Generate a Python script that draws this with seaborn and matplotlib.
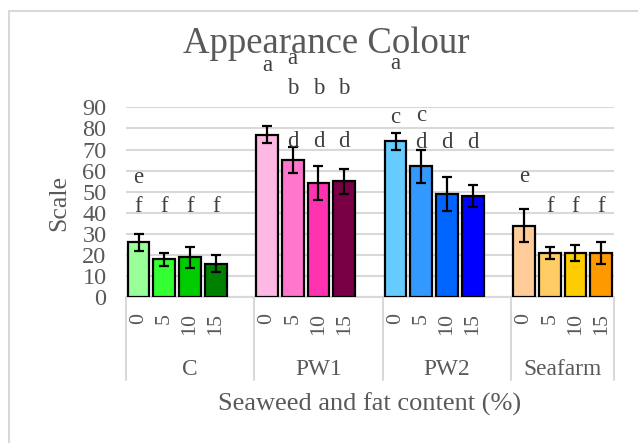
import matplotlib
matplotlib.use("Agg")
import matplotlib.pyplot as plt
import matplotlib.transforms as mtransforms
from matplotlib.patches import Rectangle
import seaborn as sns
import pandas as pd

# ---- data ----
groups = ["C", "PW1", "PW2", "Seafarm"]
fat_levels = ["0", "5", "10", "15"]
means = {
    "C": [26, 18, 19, 16],
    "PW1": [77, 65, 54, 55],
    "PW2": [74, 62, 49, 48],
    "Seafarm": [34, 21, 21, 21],
}
errors = {
    "C": [4, 3, 5, 4],
    "PW1": [4, 6, 8, 6],
    "PW2": [4, 8, 8, 5],
    "Seafarm": [8, 3, 4, 5],
}
colours = {
    "C": ["#99FF99", "#33FF33", "#00CC00", "#008000"],
    "PW1": ["#FFB7E3", "#FF77CC", "#FF33B0", "#7A0046"],
    "PW2": ["#66CCFF", "#3399FF", "#0066FF", "#0000FF"],
    "Seafarm": ["#FFCC99", "#FFCC66", "#FFCC00", "#FF9900"],
}
# significance letters per bar
letters = {
    "C": [["e", "f"], ["f"], ["f"], ["f"]],
    "PW1": [["a"], ["a", "b", "d"], ["b", "d"], ["b", "d"]],
    "PW2": [["a", "c"], ["c", "d"], ["d"], ["d"]],
    "Seafarm": [["e"], ["f"], ["f"], ["f"]],
}
# baseline height (in scale units) of each letter row
letter_height = {
    ("C", "e"): 54, ("C", "f"): 40.5,
    ("PW1", "a"): 107, ("PW1", "b"): 96.5, ("PW1", "d"): 71,
    ("PW2", "a"): 108.3, ("PW2", "c"): 82.5, ("PW2", "d"): 70.6,
    ("Seafarm", "e"): 54.5, ("Seafarm", "f"): 40.5,
}
letter_raise = {("PW1", 1, "a"): 3.6, ("PW2", 1, "c"): 1.0}

# ---- build table with empty slots between groups ----
rows = []
order = []
bar_keys = []
palette = {}
for gi, g in enumerate(groups):
    for li, lvl in enumerate(fat_levels):
        key = f"{g}|{lvl}"
        rows.append({"key": key, "group": g, "fat": lvl, "value": means[g][li],
                     "err": errors[g][li]})
        order.append(key)
        bar_keys.append(key)
        palette[key] = colours[g][li]
    if gi < len(groups) - 1:
        order.append(f"gap{gi}")
df = pd.DataFrame(rows)

sns.set_theme(style="white")
plt.rcParams["font.family"] = ["Liberation Serif", "DejaVu Serif"]
grey = "#595959"
grid_c = "#D9D9D9"

fig = plt.figure(figsize=(6.38, 4.43), dpi=100)
ax = fig.add_axes([125.7 / 638, 1 - 297.3 / 443, 488.3 / 638, 190 / 443])

sns.barplot(data=df, x="key", y="value", hue="key", order=order, hue_order=bar_keys,
            palette=palette, saturation=1, width=0.85, legend=False, errorbar=None,
            edgecolor="black", linewidth=1.6, ax=ax, zorder=3)

# error bars at the bar centres
pos = {k: i for i, k in enumerate(order)}
for _, r in df.iterrows():
    x = pos[r["key"]]
    ax.errorbar(x, r["value"], yerr=r["err"], fmt="none", ecolor="black",
                elinewidth=1.6, capsize=3.9, capthick=1.6, zorder=4)

ax.set_xlim(-0.5, len(order) - 0.5)
ax.set_ylim(0, 90)
ax.set_yticks(range(0, 91, 10))
ax.yaxis.grid(True, color=grid_c, linewidth=1.5, zorder=0)
ax.set_axisbelow(True)
for s in ["left", "right", "top"]:
    ax.spines[s].set_visible(False)
ax.spines["bottom"].set_color(grid_c)
ax.spines["bottom"].set_linewidth(1.5)

ax.set_xticks(range(len(order)))
ax.set_xticklabels([("" if k.startswith("gap") else k.split("|")[1]) for k in order],
                   rotation=90, fontsize=15.8, color=grey)
ax.tick_params(axis="x", length=0, pad=11.3)
ax.tick_params(axis="y", length=0, pad=13.8, labelsize=17.5, labelcolor=grey)
ax.set_xlabel("")
ax.set_ylabel("")

# group separators and group names below the axis
trans = mtransforms.blended_transform_factory(ax.transData, ax.transAxes)
bounds = [-0.5, 4.5, 9.5, 14.5, 18.5]
for b in bounds:
    ax.plot([b, b], [0, -0.435], transform=trans, color=grid_c, linewidth=1.5,
            clip_on=False, zorder=1)
for gi, g in enumerate(groups):
    c = (bounds[gi] + bounds[gi + 1]) / 2
    ax.text(c, -0.409, g, transform=trans, ha="center", va="baseline",
            fontsize=16.8, color=grey)

# significance letters
for g in groups:
    for li, lvl in enumerate(fat_levels):
        x = pos[f"{g}|{lvl}"]
        for L in letters[g][li]:
            y = letter_height[(g, L)] + letter_raise.get((g, li, L), 0)
            ax.text(x, y, L, ha="center", va="baseline", fontsize=16.5,
                    color="#404040", clip_on=False, zorder=5)

# titles
fig.text(325.8 / 638, 1 - 53 / 443, "Appearance Colour", ha="center",
         va="baseline", fontsize=26.5, color=grey)
fig.text(58.8 / 638, 1 - 203 / 443, "Scale", rotation=90, ha="center",
         va="center", fontsize=18.6, color=grey)
fig.text(369.7 / 638, 1 - 410.7 / 443, "Seaweed and fat content (%)", ha="center",
         va="baseline", fontsize=19, color=grey)

# chart frame
fig.patches.append(Rectangle((9 / 638, -0.1), 1.2, 1.1 - 11 / 443,
                             transform=fig.transFigure, fill=False,
                             edgecolor=grid_c, linewidth=1.5))

fig.savefig("out.png", dpi=100)
